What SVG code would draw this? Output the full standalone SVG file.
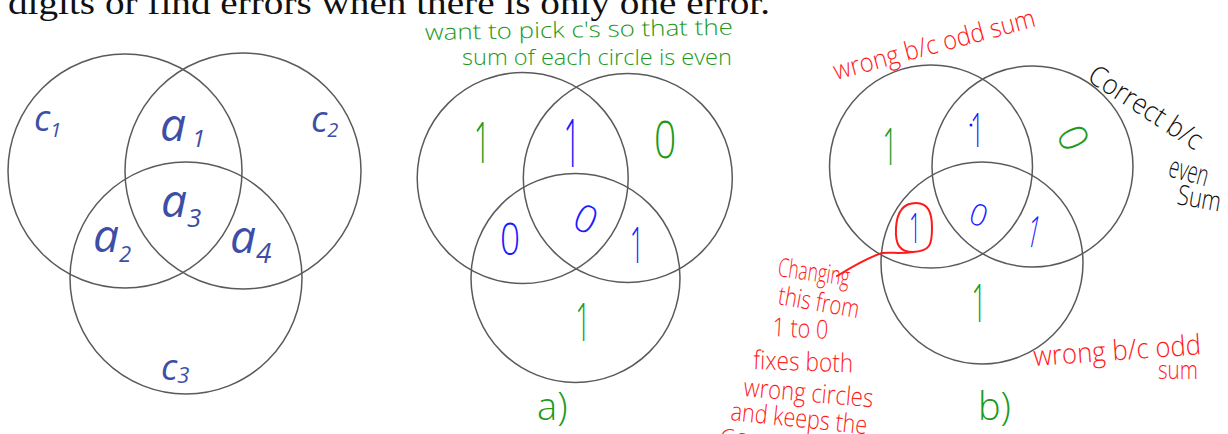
<svg xmlns="http://www.w3.org/2000/svg" width="1228" height="434" viewBox="0 0 1228 434">
<style>
.circ{fill:none;stroke:#5a5a5a;stroke-width:1.5}
.lbl{fill:#3c4ea6;font-family:"Open Sans","Liberation Sans",sans-serif;font-style:italic}
.hw{font-family:"Open Sans","Liberation Sans",sans-serif;font-weight:300}
.g{fill:#1c9a1c}.r{fill:#ff1a1a}.b{fill:#1a1aff}.k{fill:#111}
.num{font-family:"Open Sans","Liberation Sans",sans-serif;font-weight:300;text-anchor:middle}
.red{fill:none;stroke:#ff1a1a;stroke-width:2;stroke-linecap:round}
</style>
<rect width="1228" height="434" fill="#fff"/>
<text x="8" y="14" font-family="Liberation Serif,serif" font-size="34" fill="#111" textLength="762" lengthAdjust="spacingAndGlyphs">digits or find errors when there is only one error.</text>

<g id="venn-template">
  <circle class="circ" cx="125" cy="171" r="117"/>
  <circle class="circ" cx="243" cy="171" r="118"/>
  <circle class="circ" cx="186" cy="278" r="116"/>
  <text class="lbl" x="34" y="131" font-size="36">c<tspan font-size="20" dy="6">1</tspan></text>
  <text class="lbl" x="311" y="132" font-size="36">c<tspan font-size="20" dy="5">2</tspan></text>
  <text class="lbl" x="160" y="141" font-size="46">a<tspan font-size="24" dx="6" dy="6">1</tspan></text>
  <text class="lbl" x="161" y="217" font-size="46">a<tspan font-size="26" dy="10">3</tspan></text>
  <text class="lbl" x="93" y="252" font-size="46">a<tspan font-size="22" dy="10">2</tspan></text>
  <text class="lbl" x="230" y="253" font-size="46">a<tspan font-size="28" dy="10">4</tspan></text>
  <text class="lbl" x="161" y="380" font-size="36">c<tspan font-size="22" dy="3">3</tspan></text>
</g>

<g id="venn-a">
  <text class="hw g" font-size="22" transform="translate(425,40) rotate(-1)" textLength="308" lengthAdjust="spacingAndGlyphs">want to pick c's so that the</text>
  <text class="hw g" font-size="22" x="462" y="65" textLength="270" lengthAdjust="spacingAndGlyphs">sum of each circle is even</text>
  <circle class="circ" cx="522.7" cy="178" r="105.5"/>
  <circle class="circ" cx="627.8" cy="178" r="104.5"/>
  <circle class="circ" cx="575.5" cy="278" r="104.5"/>
  <text class="num g" transform="translate(482,163) scale(0.5,1)" font-size="58">1</text>
  <text class="num b" transform="translate(572,167) scale(0.45,1)" font-size="66">1</text>
  <text class="num g" transform="translate(665,158) scale(0.75,1)" font-size="52">0</text>
  <text class="num b" transform="translate(510,255) scale(0.8,1)" font-size="44">0</text>
  <text class="num b" transform="translate(580,231) rotate(25)" font-size="38">0</text>
  <text class="num b" transform="translate(637,263) scale(0.5,1)" font-size="50">1</text>
  <text class="num g" transform="translate(583,341) scale(0.5,1)" font-size="54">1</text>
  <text class="hw g" x="537" y="420" font-size="38">a)</text>
</g>

<g id="venn-b">
  <text class="hw r" font-size="26" transform="translate(836,80) rotate(-15)" textLength="208" lengthAdjust="spacingAndGlyphs">wrong b/c odd sum</text>
  <text class="hw k" font-size="28" transform="translate(1086,80) rotate(33)" textLength="130" lengthAdjust="spacingAndGlyphs">Correct b/c</text>
  <text class="hw k" font-size="30" transform="translate(1167,176) rotate(15)" textLength="40" lengthAdjust="spacingAndGlyphs">even</text>
  <text class="hw k" font-size="28" transform="translate(1176,204) rotate(10)" textLength="44" lengthAdjust="spacingAndGlyphs">Sum</text>
  <circle class="circ" cx="931" cy="166.5" r="101.5"/>
  <circle class="circ" cx="1032.5" cy="166.5" r="100.5"/>
  <circle class="circ" cx="982" cy="263" r="101"/>
  <text class="num g" transform="translate(890,165) scale(0.5,1)" font-size="52">1</text>
  <circle cx="971" cy="125" r="1.5" fill="#1a1aff"/>
  <text class="num b" transform="translate(977,147) scale(0.5,1)" font-size="48">1</text>
  <text class="num g" transform="translate(1073,138) rotate(65)" font-size="40" dy="14">0</text>
  <text class="num b" transform="translate(975,225) rotate(20)" font-size="30">0</text>
  <text class="num b" transform="translate(1031,247) rotate(12) scale(0.5,1)" font-size="44">1</text>
  <text class="num b" transform="translate(915,243) scale(0.5,1)" font-size="42">1</text>
  <path class="red" d="M913,252 C900,252 895,245 896,228 C897,210 905,203 916,203 C928,203 932,212 932,228 C932,245 930,251 913,252 Z"/>
  <text class="num g" transform="translate(979,322) scale(0.5,1)" font-size="54">1</text>
  <text class="hw g" x="978" y="420" font-size="38">b)</text>
  <text class="hw r" font-size="28" transform="translate(1034,366) rotate(-4)" textLength="168" lengthAdjust="spacingAndGlyphs">wrong b/c odd</text>
  <text class="hw r" font-size="26" x="1158" y="379" textLength="40" lengthAdjust="spacingAndGlyphs">sum</text>
</g>

<g id="note-changing">
  <text class="hw r" font-size="26" transform="translate(777,276) rotate(8)" textLength="72" lengthAdjust="spacingAndGlyphs">Changing</text>
  <text class="hw r" font-size="26" transform="translate(777,304) rotate(10)" textLength="82" lengthAdjust="spacingAndGlyphs">this from</text>
  <text class="hw r" font-size="26" transform="translate(772,336) rotate(3)" textLength="56" lengthAdjust="spacingAndGlyphs">1 to 0</text>
  <text class="hw r" font-size="26" transform="translate(753,369) rotate(2)" textLength="100" lengthAdjust="spacingAndGlyphs">fixes both</text>
  <text class="hw r" font-size="26" transform="translate(743,396) rotate(5)" textLength="130" lengthAdjust="spacingAndGlyphs">wrong circles</text>
  <text class="hw r" font-size="26" transform="translate(730,420) rotate(6)" textLength="137" lengthAdjust="spacingAndGlyphs">and keeps the</text>
  <text class="hw r" font-size="24" x="720" y="446">Co</text>
</g>

<g id="connectors">
  <path class="red" d="M913,252 C900,254 890,252 882,253 C870,257 850,268 837,276"/>
</g>
</svg>
